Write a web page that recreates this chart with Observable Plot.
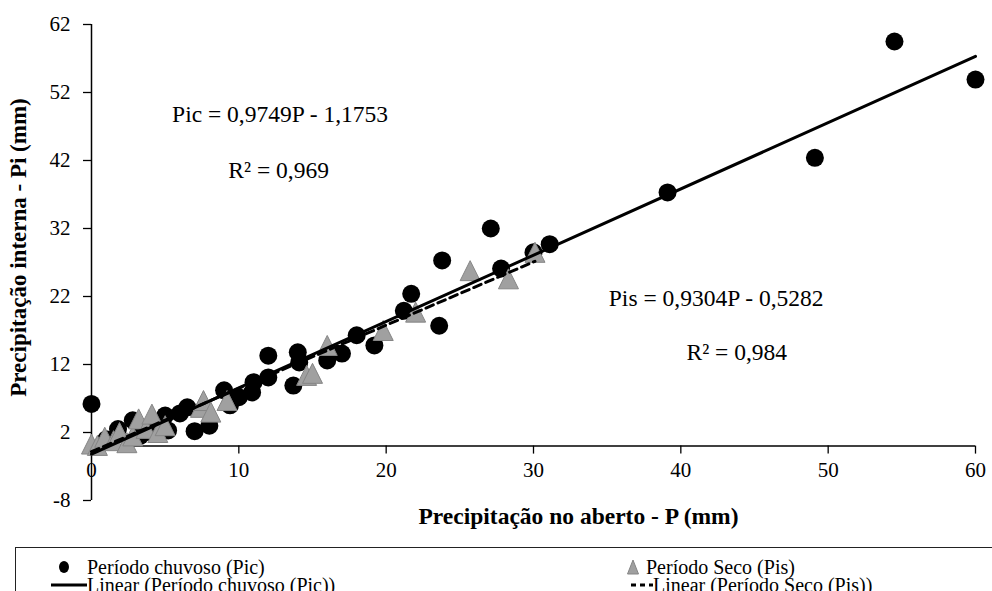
<!DOCTYPE html>
<html>
<head>
<meta charset="utf-8">
<script src="https://cdn.jsdelivr.net/npm/d3@7"></script>
<script src="https://cdn.jsdelivr.net/npm/@observablehq/plot@0.6"></script>
<style>
  html, body { margin: 0; padding: 0; background: #fff; }
  #wrap { position: relative; width: 992px; height: 591px; overflow: hidden; font-family: "Liberation Serif", "Times New Roman", serif; }
  #legend { position: absolute; left: 15px; top: 547px; width: 1000px; height: 60px; border-top: 1px solid #222; border-left: 1px solid #222; }
  #legend .t { position: absolute; font-size: 20px; line-height: 18px; white-space: nowrap; color: #000; }
  #legend svg { position: absolute; overflow: visible; }
</style>
</head>
<body>
<div id="wrap"></div>
<script>
// Período chuvoso (Pic): P (mm) and Pi (mm)
const picP  = [0, 1.0, 1.8, 2.8, 3.3, 4.0, 5.0, 5.2, 6.0, 6.5, 7.0, 8.0, 9.0, 9.4, 10.0, 10.9, 11.0, 12.0, 12.0, 13.7, 14.0, 14.1, 16.0, 17.0, 18.0, 19.2, 21.2, 21.7, 23.6, 23.8, 27.1, 27.8, 30.0, 31.1, 39.1, 49.1, 54.5, 60.0];
const picPi = [6.2, 1.0, 2.5, 3.8, 1.5, 2.0, 4.5, 2.3, 4.8, 5.7, 2.2, 3.0, 8.2, 6.0, 7.2, 7.9, 9.4, 10.1, 13.3, 8.9, 13.8, 12.3, 12.6, 13.6, 16.3, 14.8, 19.9, 22.4, 17.7, 27.3, 32.0, 26.1, 28.5, 29.7, 37.3, 42.4, 59.5, 53.9];
// Período Seco (Pis)
const pisP  = [0, 0.4, 0.9, 1.5, 1.9, 2.4, 2.8, 3.2, 3.7, 4.1, 4.5, 5.0, 7.4, 7.6, 8.1, 9.2, 14.6, 15.0, 16.0, 19.8, 22.0, 25.7, 28.3, 30.1];
const pisPi = [0.3, 0.1, 1.3, 0.8, 2.0, 0.5, 1.5, 4.0, 2.6, 4.7, 2.0, 3.0, 5.7, 6.7, 5.0, 6.7, 10.4, 10.7, 14.8, 17.0, 19.7, 25.8, 24.6, 28.5];
// Trendline coefficients [slope, intercept] and x-range
const picFit = [0.9749, -1.1753];
const pisFit = [0.9304, -0.5282];
const picRange = [0, 60];
const pisRange = [0, 30.1];
// Axis ticks
const xTicks = [0, 10, 20, 30, 40, 50, 60];
const yTicks = [-8, 2, 12, 22, 32, 42, 52, 62];
// Texts
const xTitle = "Precipitação no aberto - P (mm)";
const yTitle = "Precipitação interna - Pi (mm)";
const annotations = [
  {x: 12.8, y: 48.7, text: "Pic = 0,9749P - 1,1753"},
  {x: 12.7, y: 40.6, text: "R² = 0,969"},
  {x: 42.4, y: 21.7, text: "Pis = 0,9304P - 0,5282"},
  {x: 43.8, y: 13.7, text: "R² = 0,984"}
];

const pic = picP.map((p, i) => ({P: p, Pi: picPi[i]}));
const pis = pisP.map((p, i) => ({P: p, Pi: pisPi[i]}));
const picLine = picRange.map(p => ({P: p, Pi: picFit[0] * p + picFit[1]}));
const pisLine = pisRange.map(p => ({P: p, Pi: pisFit[0] * p + pisFit[1]}));

const tri = {
  draw(context, size) {
    const a = Math.sqrt(size / Math.PI);
    context.moveTo(0, -a);
    context.lineTo(a, a);
    context.lineTo(-a, a);
    context.closePath();
  }
};

const chart = Plot.plot({
  width: 992,
  height: 545,
  marginLeft: 91,
  marginRight: 17,
  marginTop: 24,
  marginBottom: 45,
  style: {fontFamily: "Liberation Serif, Times New Roman, serif", fontSize: "21px", background: "#fff", overflow: "visible"},
  x: {domain: [0, 60], axis: null},
  y: {domain: [-8, 62]},
  marks: [
    Plot.axisY({ticks: yTicks, tickFormat: d => String(d), tickSize: 8, tickPadding: 13, label: null, fontSize: 21, stroke: "#000", strokeWidth: 1.3, color: "#000"}),
    Plot.ruleX([0], {y1: -8, y2: 62, stroke: "#000", strokeWidth: 1.5}),
    Plot.ruleY([0], {x1: 0, x2: 60, stroke: "#000", strokeWidth: 1.5}),
    Plot.ruleX(xTicks, {x: d => d, y1: () => 0, y2: () => 0, insetBottom: -8, stroke: "#000", strokeWidth: 1.3}),
    Plot.text(xTicks, {x: d => d, y: () => 0, dy: 24, text: d => String(d), fontSize: 21, fill: "#000"}),
    Plot.dot(pic, {x: "P", y: "Pi", r: 9, fill: "#000", stroke: "none"}),
    Plot.dot(pis, {x: "P", y: "Pi", r: 10, symbol: tri, fill: "#a0a0a0", stroke: "#858585", strokeWidth: 1}),
    Plot.line(picLine, {x: "P", y: "Pi", stroke: "#000", strokeWidth: 3}),
    Plot.line(pisLine, {x: "P", y: "Pi", stroke: "#000", strokeWidth: 3, strokeDasharray: "8,5", dy: 2}),
    Plot.text(annotations, {x: "x", y: "y", text: "text", fontSize: 23.5, fill: "#000"}),
    Plot.text([xTitle], {frameAnchor: "bottom", textAnchor: "middle", dx: 45, dy: 23, fontSize: 23.5, fontWeight: "bold", fill: "#000"}),
    Plot.text([yTitle], {frameAnchor: "left", textAnchor: "middle", rotate: -90, dx: -73, dy: -15, fontSize: 23, fontWeight: "bold", fill: "#000"})
  ]
});

const wrap = document.getElementById("wrap");
wrap.appendChild(chart);

const legend = document.createElement("div");
legend.id = "legend";
legend.innerHTML = `
  <svg style="left:42px;top:13px" width="12" height="12"><ellipse cx="6" cy="6" rx="5" ry="6" fill="#000"/></svg>
  <span class="t" style="left:71px;top:10px">Período chuvoso (Pic)</span>
  <svg style="left:611px;top:12px" width="12" height="14"><path d="M6,0 L11.5,14 L0.5,14 Z" fill="#a0a0a0" stroke="#858585" stroke-width="1"/></svg>
  <span class="t" style="left:630px;top:10px">Período Seco (Pis)</span>
  <svg style="left:35px;top:35px" width="36" height="4"><line x1="0" y1="2" x2="36" y2="2" stroke="#000" stroke-width="3"/></svg>
  <span class="t" style="left:71px;top:28px">Linear (Período chuvoso (Pic))</span>
  <svg style="left:615px;top:35px" width="22" height="4"><line x1="0" y1="2" x2="22" y2="2" stroke="#000" stroke-width="3" stroke-dasharray="5,4"/></svg>
  <span class="t" style="left:637px;top:28px">Linear (Período Seco (Pis))</span>
`;
wrap.appendChild(legend);
</script>
</body>
</html>
